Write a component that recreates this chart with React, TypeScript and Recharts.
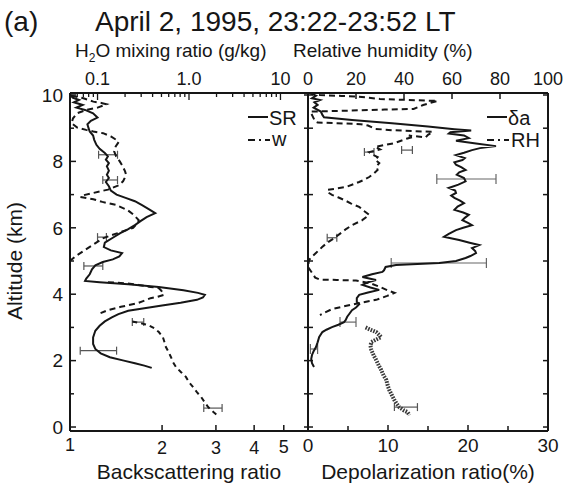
import React from 'react';
import { ScatterChart, Scatter, XAxis, YAxis, ErrorBar } from 'recharts';

type Pair = [number, number]; // [altitude km, value]
type Err = [number, number, number, number]; // [altitude, value, minus, plus]

// ---------- left panel: scattering ratio (bottom, log) and water vapour mixing ratio (top, log)
const SR_PROFILE: Pair[] = [
  [10.02, 1.0], [9.92, 1.02], [9.85, 1.07], [9.78, 1.03], [9.7, 1.1], [9.62, 1.05], [9.55, 1.12],
  [9.45, 1.19], [9.32, 1.23], [9.22, 1.17], [9.12, 1.14], [9.0, 1.15], [8.9, 1.16], [8.78, 1.19],
  [8.65, 1.2], [8.5, 1.22], [8.38, 1.25], [8.25, 1.3], [8.15, 1.33], [8.05, 1.31], [7.95, 1.34],
  [7.85, 1.32], [7.72, 1.34], [7.6, 1.32], [7.5, 1.34], [7.38, 1.31], [7.25, 1.34], [7.12, 1.36],
  [7.0, 1.42], [6.9, 1.52], [6.8, 1.63], [6.68, 1.72], [6.55, 1.82], [6.44, 1.9], [6.32, 1.78],
  [6.2, 1.7], [6.08, 1.63], [5.96, 1.55], [5.84, 1.46], [5.7, 1.38], [5.55, 1.3], [5.42, 1.29],
  [5.32, 1.36], [5.24, 1.48], [5.14, 1.45], [5.05, 1.38], [4.97, 1.28], [4.87, 1.21], [4.75, 1.18],
  [4.6, 1.16], [4.47, 1.13], [4.4, 1.12], [4.36, 1.25], [4.3, 1.55], [4.22, 1.95], [4.12, 2.35],
  [4.04, 2.62], [3.98, 2.76], [3.9, 2.72], [3.83, 2.6], [3.74, 2.3], [3.66, 2.0], [3.58, 1.75],
  [3.5, 1.55], [3.4, 1.44], [3.3, 1.37], [3.18, 1.3], [3.05, 1.25], [2.9, 1.21], [2.7, 1.19],
  [2.5, 1.19], [2.35, 1.21], [2.22, 1.26], [2.1, 1.35], [2.0, 1.5], [1.92, 1.63], [1.85, 1.75],
  [1.78, 1.85],
];

const W_UPPER: Pair[] = [
  [9.98, 0.052], [9.9, 0.07], [9.8, 0.09], [9.76, 0.11], [9.72, 0.125], [9.62, 0.1], [9.55, 0.075],
  [9.45, 0.06], [9.3, 0.054], [9.15, 0.052], [9.02, 0.06], [8.95, 0.075], [8.9, 0.09], [8.85, 0.115],
  [8.75, 0.14], [8.65, 0.16], [8.58, 0.17], [8.45, 0.158], [8.3, 0.152], [8.15, 0.16], [8.0, 0.175],
  [7.86, 0.188], [7.7, 0.2], [7.6, 0.205], [7.5, 0.198], [7.4, 0.19], [7.28, 0.17], [7.15, 0.13],
  [7.05, 0.09], [6.98, 0.07], [6.93, 0.065], [6.86, 0.09], [6.78, 0.113], [6.69, 0.158],
  [6.53, 0.214], [6.39, 0.249], [6.23, 0.282], [6.1, 0.265], [6.0, 0.245], [5.84, 0.166],
  [5.69, 0.116], [5.48, 0.088], [5.3, 0.07], [5.15, 0.058], [5.02, 0.051],
];

const W_MIDDLE: Pair[] = [
  [4.36, 0.13], [4.33, 0.2], [4.28, 0.28], [4.22, 0.38], [4.18, 0.47], [4.1, 0.5], [3.98, 0.53],
  [3.92, 0.45], [3.88, 0.38], [3.8, 0.32], [3.73, 0.275], [3.62, 0.18], [3.52, 0.13], [3.43, 0.108],
];

const W_LOWER: Pair[] = [
  [3.18, 0.24], [3.13, 0.29], [3.07, 0.36], [2.97, 0.42], [2.86, 0.468], [2.71, 0.518], [2.55, 0.54],
  [2.41, 0.559], [2.25, 0.6], [2.11, 0.634], [1.95, 0.67], [1.81, 0.72], [1.65, 0.82], [1.51, 0.925],
  [1.35, 1.0], [1.2, 1.11], [1.05, 1.22], [0.9, 1.36], [0.75, 1.48], [0.6, 1.62], [0.45, 1.85],
  [0.3, 2.14],
];

const SR_ERRORS: Err[] = [[8.2, 1.33, 0.09, 0.1], [7.44, 1.35, 0.07, 0.08], [4.85, 1.19, 0.08, 0.09], [2.3, 1.21, 0.13, 0.21]];
const W_ERRORS: Err[] = [[5.72, 0.11, 0.01, 0.015], [3.16, 0.275, 0.035, 0.045], [0.57, 1.65, 0.2, 0.65]];

// ---------- right panel: depolarization ratio (bottom) and relative humidity (top)
const DEPOL_PROFILE: Pair[] = [
  [10.05, 0.3], [9.98, 1.0], [9.9, 0.5], [9.85, 1.5], [9.78, 0.8], [9.7, 1.2], [9.62, 0.7],
  [9.5, 1.6], [9.4, 1.8], [9.33, 2.0], [9.25, 5.5], [9.15, 10.5], [9.05, 15.0], [8.97, 18.3],
  [8.93, 20.4], [8.88, 17.8], [8.84, 17.6], [8.78, 19.5], [8.7, 20.1], [8.62, 18.5], [8.54, 21.0],
  [8.46, 23.5], [8.4, 21.5], [8.34, 20.5], [8.26, 19.5], [8.19, 18.5], [8.1, 19.6], [8.04, 19.3],
  [7.97, 18.3], [7.9, 18.5], [7.82, 19.2], [7.74, 19.7], [7.67, 18.9], [7.6, 18.6], [7.5, 19.5],
  [7.4, 19.7], [7.3, 18.8], [7.2, 17.6], [7.12, 18.4], [7.05, 18.5], [6.97, 17.9], [6.9, 18.3],
  [6.82, 19.0], [6.74, 19.5], [6.64, 18.7], [6.54, 18.3], [6.46, 19.4], [6.39, 20.1], [6.3, 19.6],
  [6.23, 19.3], [6.15, 20.0], [6.08, 20.5], [6.0, 19.4], [5.93, 18.5], [5.82, 17.6], [5.73, 17.0],
  [5.68, 18.0], [5.63, 18.9], [5.55, 20.2], [5.48, 21.4], [5.42, 20.8], [5.39, 20.5], [5.3, 20.9],
  [5.24, 21.0], [5.15, 20.3], [5.09, 19.7], [5.0, 18.5], [4.94, 16.4], [4.9, 13.0], [4.88, 11.0],
  [4.82, 9.7], [4.72, 9.5], [4.67, 9.3], [4.6, 8.0], [4.52, 6.8], [4.43, 8.5], [4.36, 7.5],
  [4.28, 6.8], [4.2, 7.8], [4.13, 8.9], [4.05, 7.5], [3.98, 6.4], [3.88, 6.1], [3.77, 6.1],
  [3.7, 6.4], [3.6, 6.0], [3.52, 5.5], [3.42, 5.2], [3.32, 4.9], [3.22, 4.7], [3.16, 4.5],
  [3.08, 3.8], [3.01, 3.0], [2.93, 2.3], [2.86, 1.8], [2.71, 1.4], [2.55, 1.2], [2.41, 1.0],
  [2.28, 0.7], [2.17, 0.5], [2.05, 0.4], [1.92, 0.5], [1.81, 0.75],
];

const RH_UPPER: Pair[] = [
  [10.06, 0.5], [10.0, 5], [9.97, 14], [9.95, 21], [9.88, 30], [9.85, 42], [9.82, 54], [9.7, 48],
  [9.58, 44], [9.56, 32], [9.54, 22], [9.52, 12], [9.5, 1], [9.35, 2], [9.2, 3], [9.17, 4],
  [9.15, 12], [9.12, 22], [9.08, 25], [8.98, 28], [8.94, 35], [8.91, 45], [8.89, 52], [8.8, 50],
  [8.72, 49], [8.78, 42], [8.74, 44], [8.68, 41], [8.55, 36], [8.44, 28], [8.36, 30], [8.28, 25.5],
  [8.2, 27], [8.13, 29], [8.05, 28], [7.95, 29.7], [7.85, 28.5], [7.74, 29], [7.64, 27.5],
  [7.53, 25.5], [7.45, 23.5], [7.38, 21.3], [7.23, 15.9], [7.14, 8], [7.06, 8.5], [6.99, 10],
  [6.92, 12.5], [6.84, 15], [6.73, 18], [6.63, 21.3], [6.5, 23.5], [6.39, 25.5], [6.23, 22.6],
  [6.08, 18.4], [5.97, 16], [5.87, 14.2], [5.69, 10.9], [5.55, 8], [5.42, 5.9], [5.24, 3.3],
  [5.12, 1.5], [5.03, 0.4], [4.82, 0], [4.64, 1.7], [4.5, 3], [4.44, 5], [4.43, 12], [4.41, 20],
  [4.33, 26], [4.22, 30], [4.12, 33], [4.04, 36], [3.95, 33], [3.83, 28.4], [3.73, 21], [3.65, 16],
  [3.55, 10], [3.45, 7], [3.37, 5],
];

const RH_LOWER: Pair[] = [
  [3.0, 24], [2.93, 26], [2.86, 28.4], [2.71, 30.5], [2.62, 28], [2.56, 26.4], [2.45, 26],
  [2.32, 26.4], [2.15, 27.4], [2.02, 28.4], [1.85, 29.5], [1.72, 30.5], [1.55, 31.5], [1.42, 32.6],
  [1.25, 33.2], [1.11, 33.9], [0.95, 35], [0.81, 36], [0.7, 37], [0.6, 38], [0.5, 40], [0.45, 41.4],
  [0.36, 42.3],
];

const DEPOL_ERRORS: Err[] = [[7.47, 19.5, 3.4, 4.0], [4.94, 16.4, 6.0, 5.9], [3.16, 4.8, 0.8, 1.2], [2.35, 0.8, 0.5, 0.4]];
const RH_ERRORS: Err[] = [[8.34, 41, 2, 2.5], [8.28, 25.5, 2, 2], [5.7, 10, 2, 2], [0.6, 39, 3, 6.6]];

// ---------- ticks
const ALT_TICKS = [0, 1, 2, 3, 4, 5, 6, 7, 8, 9, 10];
const ALT_LABELLED = [0, 2, 4, 6, 8, 10];
const SR_TICKS = [1, 2, 3, 4, 5];
const W_TICKS = [0.06, 0.07, 0.08, 0.09, 0.1, 0.2, 0.3, 0.4, 0.5, 0.6, 0.7, 0.8, 0.9, 1, 2, 3, 4, 5, 6, 7, 8, 9, 10, 20];
const W_LABELLED: Pair[] = [[0.1, 0], [1, 1], [10, 2]];
const W_LABEL_TEXT = ['0.1', '1.0', '10'];
const DEPOL_TICKS = [0, 5, 10, 15, 20, 25, 30];
const DEPOL_LABELLED = [0, 10, 20, 30];
const RH_TICKS = [0, 20, 40, 60, 80, 100];

const FONT = '"Liberation Sans", Arial, Helvetica, sans-serif';
const INK = '#161616';
const ALT_DOMAIN: [number, number] = [-0.12, 10.06];

const pts = (a: Pair[]) => a.map(([alt, v]) => ({ alt, v }));
const errPts = (a: Err[]) => a.map(([alt, v, lo, hi]) => ({ alt, v, e: [lo, hi] }));
const Empty = () => <g />;

const near = (a: number, b: number) => Math.abs(a - b) < 1e-9;

const leftAltTick = (props: any) => {
  const { x, y, payload } = props;
  const v = payload.value;
  const major = ALT_LABELLED.some((t) => near(t, v));
  return (
    <g>
      <line x1={x} y1={y} x2={x + (major ? 6 : 4)} y2={y} stroke={INK} strokeWidth={1.5} />
      {major && (
        <text x={x - 7} y={y} dy="0.36em" textAnchor="end" fontSize={19} fontFamily={FONT} fill={INK}>
          {v}
        </text>
      )}
    </g>
  );
};

const crossAltTick = (props: any) => {
  const { x, y } = props;
  return <line x1={x - 4} y1={y} x2={x + 5} y2={y} stroke={INK} strokeWidth={1.5} />;
};

const rightAltTick = (props: any) => {
  const { x, y } = props;
  return <line x1={x} y1={y} x2={x - 5} y2={y} stroke={INK} strokeWidth={1.5} />;
};

const srTick = (props: any) => {
  const { x, y, payload } = props;
  const v = payload.value;
  return (
    <g>
      {v > 1 && <line x1={x} y1={y} x2={x} y2={y - 6} stroke={INK} strokeWidth={1.5} />}
      <text x={x} y={y + (v === 1 ? 20 : v === 5 ? 22 : 23)} textAnchor="middle" fontSize={18} fontFamily={FONT} fill={INK}>
        {v}
      </text>
    </g>
  );
};

const wTick = (props: any) => {
  const { x, y, payload } = props;
  const v = payload.value;
  const lab = W_LABELLED.find(([t]) => near(t, v));
  return (
    <g>
      <line x1={x} y1={y} x2={x} y2={y + (lab ? 7 : 4)} stroke={INK} strokeWidth={1.3} />
      {lab && (
        <text x={x} y={y - 8} textAnchor="middle" fontSize={18} fontFamily={FONT} fill={INK}>
          {W_LABEL_TEXT[lab[1]]}
        </text>
      )}
    </g>
  );
};

const depolTick = (props: any) => {
  const { x, y, payload } = props;
  const v = payload.value;
  const major = DEPOL_LABELLED.some((t) => near(t, v));
  return (
    <g>
      {v > 0 && v < 30 && <line x1={x} y1={y} x2={x} y2={y - (major ? 6 : 5)} stroke={INK} strokeWidth={1.5} />}
      {major && (
        <text x={x} y={y + 21} textAnchor="middle" fontSize={19} fontFamily={FONT} fill={INK}>
          {v}
        </text>
      )}
    </g>
  );
};

const rhTick = (props: any) => {
  const { x, y, payload } = props;
  const v = payload.value;
  return (
    <g>
      {v > 0 && <line x1={x} y1={y} x2={x} y2={y + 6} stroke={INK} strokeWidth={1.5} />}
      <text x={x} y={y - 8} textAnchor="middle" fontSize={18} fontFamily={FONT} fill={INK}>
        {v}
      </text>
    </g>
  );
};

const AXIS_LINE = { stroke: INK, strokeWidth: 2 };
const SOLID = { stroke: INK, strokeWidth: 2 };
const DASHED = { stroke: INK, strokeWidth: 2, strokeDasharray: '6 4' };
const HATCH = { stroke: '#3a3a3a', strokeWidth: 4, strokeDasharray: '1.6 1.2' };

const AX = 10; // axis band thickness in px

function LeftPanel() {
  return (
    <ScatterChart
      width={330}
      height={483}
      margin={{ top: 93 - AX, right: 22 - AX, bottom: 52 - AX, left: 70 - AX }}
      style={{ position: 'absolute', left: 0, top: 0 }}
    >
      <XAxis xAxisId="sr" type="number" dataKey="v" scale="log" domain={[1, 6]} allowDataOverflow
        orientation="bottom" height={AX} ticks={SR_TICKS} interval={0} tickSize={0} tickMargin={0}
        tick={srTick} tickLine={false} axisLine={AXIS_LINE} />
      <XAxis xAxisId="w" type="number" dataKey="v" scale="log" domain={[0.05, 20]} allowDataOverflow
        orientation="top" height={AX} ticks={W_TICKS} interval={0} tickSize={0} tickMargin={0}
        tick={wTick} tickLine={false} axisLine={AXIS_LINE} />
      <YAxis yAxisId="alt" type="number" dataKey="alt" domain={ALT_DOMAIN} allowDataOverflow width={AX}
        ticks={ALT_TICKS} interval={0} tickSize={0} tickMargin={0} tick={leftAltTick} tickLine={false}
        axisLine={AXIS_LINE} />
      <YAxis yAxisId="altR" orientation="right" type="number" dataKey="alt" domain={ALT_DOMAIN} allowDataOverflow
        width={AX} ticks={ALT_TICKS} interval={0} tick={false} tickLine={false} axisLine={AXIS_LINE} />

      <Scatter xAxisId="sr" yAxisId="alt" data={pts(SR_PROFILE)} line={SOLID} shape={Empty} isAnimationActive={false} />
      <Scatter xAxisId="w" yAxisId="alt" data={pts(W_UPPER)} line={DASHED} shape={Empty} isAnimationActive={false} />
      <Scatter xAxisId="w" yAxisId="alt" data={pts(W_MIDDLE)} line={DASHED} shape={Empty} isAnimationActive={false} />
      <Scatter xAxisId="w" yAxisId="alt" data={pts(W_LOWER)} line={{ ...DASHED, strokeDasharray: '5 4' }} shape={Empty} isAnimationActive={false} />
      <Scatter xAxisId="sr" yAxisId="altR" data={errPts(SR_ERRORS)} shape={Empty} isAnimationActive={false}>
        <ErrorBar dataKey="e" direction="x" width={4} stroke="#555" strokeWidth={1.2} />
      </Scatter>
      <Scatter xAxisId="w" yAxisId="alt" data={errPts(W_ERRORS)} shape={Empty} isAnimationActive={false}>
        <ErrorBar dataKey="e" direction="x" width={4} stroke="#555" strokeWidth={1.2} />
      </Scatter>
    </ScatterChart>
  );
}

function RightPanel() {
  return (
    <ScatterChart
      width={278}
      height={483}
      margin={{ top: 93 - AX, right: 20 - AX, bottom: 52 - AX, left: 18 - AX }}
      style={{ position: 'absolute', left: 290, top: 0 }}
    >
      <XAxis xAxisId="dp" type="number" dataKey="v" domain={[0, 30]} allowDataOverflow
        orientation="bottom" height={AX} ticks={DEPOL_TICKS} interval={0} tickSize={0} tickMargin={0}
        tick={depolTick} tickLine={false} axisLine={AXIS_LINE} />
      <XAxis xAxisId="rh" type="number" dataKey="v" domain={[0, 100]} allowDataOverflow
        orientation="top" height={AX} ticks={RH_TICKS} interval={0} tickSize={0} tickMargin={0}
        tick={rhTick} tickLine={false} axisLine={AXIS_LINE} />
      <YAxis yAxisId="alt" type="number" dataKey="alt" domain={ALT_DOMAIN} allowDataOverflow width={AX}
        ticks={ALT_TICKS} interval={0} tickSize={0} tickMargin={0} tick={crossAltTick} tickLine={false}
        axisLine={AXIS_LINE} />
      <YAxis yAxisId="altR" orientation="right" type="number" dataKey="alt" domain={ALT_DOMAIN} allowDataOverflow
        width={AX} ticks={ALT_TICKS} interval={0} tickSize={0} tickMargin={0} tick={rightAltTick}
        tickLine={false} axisLine={AXIS_LINE} />

      <Scatter xAxisId="dp" yAxisId="alt" data={pts(DEPOL_PROFILE)} line={SOLID} shape={Empty} isAnimationActive={false} />
      <Scatter xAxisId="rh" yAxisId="alt" data={pts(RH_UPPER)} line={DASHED} shape={Empty} isAnimationActive={false} />
      <Scatter xAxisId="rh" yAxisId="altR" data={pts(RH_LOWER)} line={HATCH} shape={Empty} isAnimationActive={false} />
      <Scatter xAxisId="dp" yAxisId="alt" data={errPts(DEPOL_ERRORS)} shape={Empty} isAnimationActive={false}>
        <ErrorBar dataKey="e" direction="x" width={5} stroke="#666" strokeWidth={1.2} />
      </Scatter>
      <Scatter xAxisId="rh" yAxisId="altR" data={errPts(RH_ERRORS)} shape={Empty} isAnimationActive={false}>
        <ErrorBar dataKey="e" direction="x" width={4} stroke="#555" strokeWidth={1.2} />
      </Scatter>
    </ScatterChart>
  );
}

function Overlay() {
  const t = { fontFamily: FONT, fill: INK } as const;
  return (
    <svg width={568} height={483} style={{ position: 'absolute', left: 0, top: 0, pointerEvents: 'none' }}>
      <text x={4} y={31} fontSize={28} {...t}>(a)</text>
      <text x={95} y={31} fontSize={28} {...t}>April 2, 1995, 23:22-23:52 LT</text>
      <text x={75} y={57} fontSize={19} {...t}>
        H<tspan fontSize={12} dy={5}>2</tspan><tspan dy={-5}>O mixing ratio (g/kg)</tspan>
      </text>
      <text x={293} y={57} fontSize={19} {...t}>Relative humidity (%)</text>
      <text x={22} y={261} fontSize={21} textAnchor="middle" transform="rotate(-90 22 261)" {...t}>Altitude (km)</text>
      <text x={189} y={479} fontSize={21} textAnchor="middle" {...t}>Backscattering ratio</text>
      <text x={428} y={479} fontSize={21} textAnchor="middle" {...t}>Depolarization ratio(%)</text>

      {/* legends */}
      <line x1={248} y1={117} x2={268} y2={117} stroke={INK} strokeWidth={2} />
      <text x={269} y={125} fontSize={20} {...t}>SR</text>
      <line x1={248} y1={140} x2={270} y2={140} stroke={INK} strokeWidth={2} strokeDasharray="7 4 2 4" />
      <text x={272} y={146} fontSize={20} {...t}>w</text>

      <line x1={487} y1={117} x2={507} y2={117} stroke={INK} strokeWidth={2} />
      <text x={508} y={125} fontSize={20} {...t}>δa</text>
      <line x1={487} y1={140} x2={509} y2={140} stroke={INK} strokeWidth={2} strokeDasharray="7 4 2 4" />
      <text x={511} y={147} fontSize={20} {...t}>RH</text>
    </svg>
  );
}

export default function App() {
  return (
    <div style={{ position: 'absolute', left: 0, top: 0, width: 568, height: 483, background: '#fff', overflow: 'hidden' }}>
      <LeftPanel />
      <RightPanel />
      <Overlay />
    </div>
  );
}
